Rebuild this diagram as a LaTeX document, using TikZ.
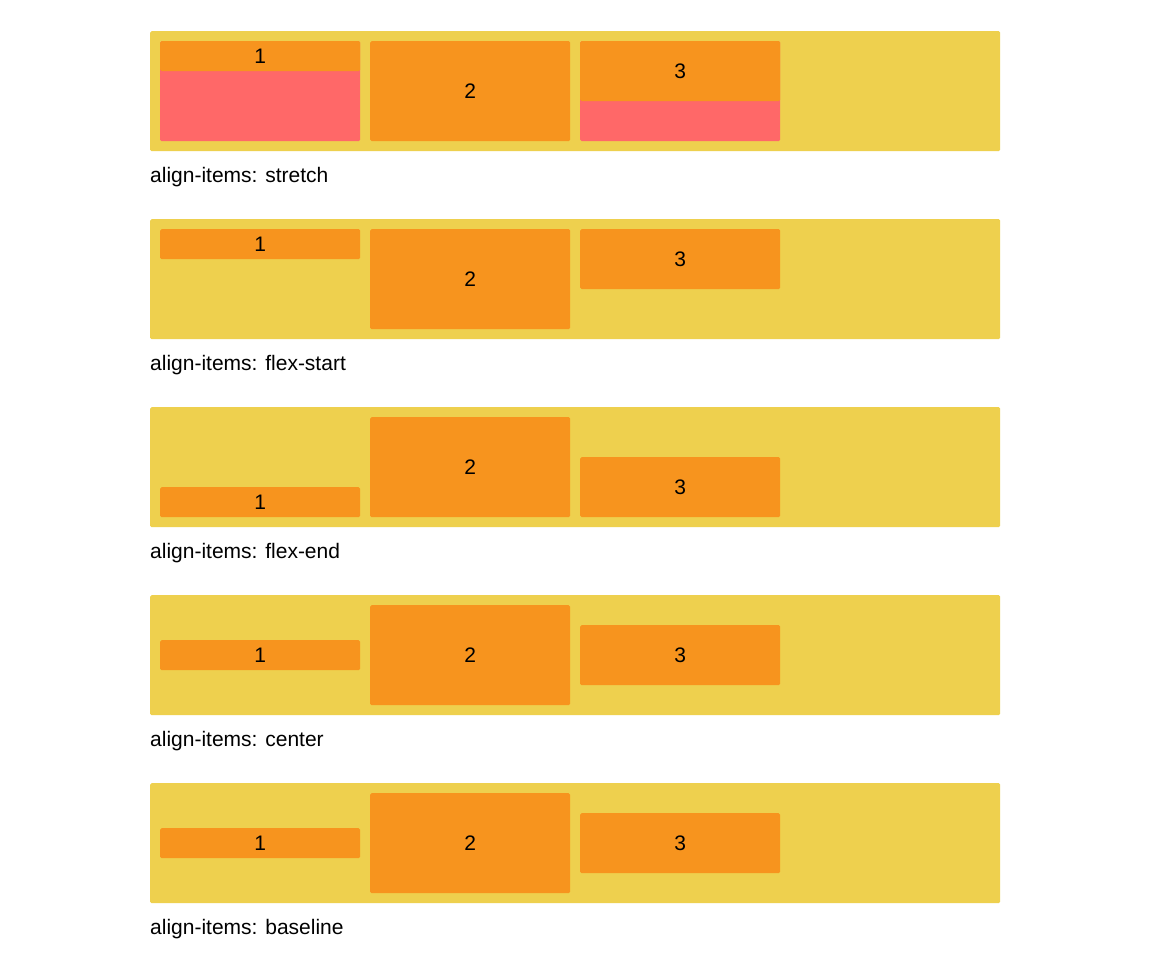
\documentclass[tikz,border=0pt]{standalone}
\usepackage{fontspec}
\setmainfont{Liberation Sans}
\usetikzlibrary{positioning}
\definecolor{flexbg}{RGB}{238,208,78}
\definecolor{itemfill}{RGB}{247,148,30}
\definecolor{stretchfill}{RGB}{255,104,104}
\tikzset{
  container/.style={fill=flexbg, rounded corners=1.5pt, inner sep=0pt,
                    minimum width=850pt, minimum height=120pt, anchor=north west},
  item/.style={fill=itemfill, rounded corners=1.5pt, inner sep=0pt,
               minimum width=200pt, anchor=north west, font=\fontsize{21}{25}\selectfont},
  filler/.style={fill=stretchfill, rounded corners=1.5pt, inner sep=0pt,
                 minimum width=200pt, anchor=north west},
  caption/.style={anchor=base west, inner sep=0pt, font=\fontsize{21}{25}\selectfont},
}

\begin{document}
\begin{tikzpicture}[x=1pt, y=-1pt]
        \useasboundingbox[fill=white] (0,0) rectangle (1150,972);
        % stretch
        \node[container] (box-stretch) at (150,31) {};
        \node[filler, minimum height=100pt] (fill-s1) at (160,41) {};
        \node[item, minimum height=30pt] (s1) at (160,41) {1};
        \node[item, minimum height=100pt] (s2) at (370,41) {2};
        \node[filler, minimum height=100pt] (fill-s3) at (580,41) {};
        \node[item, minimum height=60pt] (s3) at (580,41) {3};
        \node[caption] (cap-stretch) at (150,182) {align-items: stretch};
        % flex-start
        \node[container] (box-start) at (150,219) {};
        \node[item, minimum height=30pt] (a1) at (160,229) {1};
        \node[item, minimum height=100pt] (a2) at (370,229) {2};
        \node[item, minimum height=60pt] (a3) at (580,229) {3};
        \node[caption] (cap-start) at (150,370) {align-items: flex-start};
        % flex-end
        \node[container] (box-end) at (150,407) {};
        \node[item, minimum height=30pt] (e1) at (160,487) {1};
        \node[item, minimum height=100pt] (e2) at (370,417) {2};
        \node[item, minimum height=60pt] (e3) at (580,457) {3};
        \node[caption] (cap-end) at (150,558) {align-items: flex-end};
        % center
        \node[container] (box-center) at (150,595) {};
        \node[item, minimum height=30pt] (c1) at (160,640) {1};
        \node[item, minimum height=100pt] (c2) at (370,605) {2};
        \node[item, minimum height=60pt] (c3) at (580,625) {3};
        \node[caption] (cap-center) at (150,746) {align-items: center};
        % baseline
        \node[container] (box-base) at (150,783) {};
        \node[item, minimum height=30pt] (b1) at (160,828) {1};
        \node[item, minimum height=100pt] (b2) at (370,793) {2};
        \node[item, minimum height=60pt] (b3) at (580,813) {3};
        \node[caption] (cap-base) at (150,934) {align-items: baseline};
      \end{tikzpicture}
\end{document}
